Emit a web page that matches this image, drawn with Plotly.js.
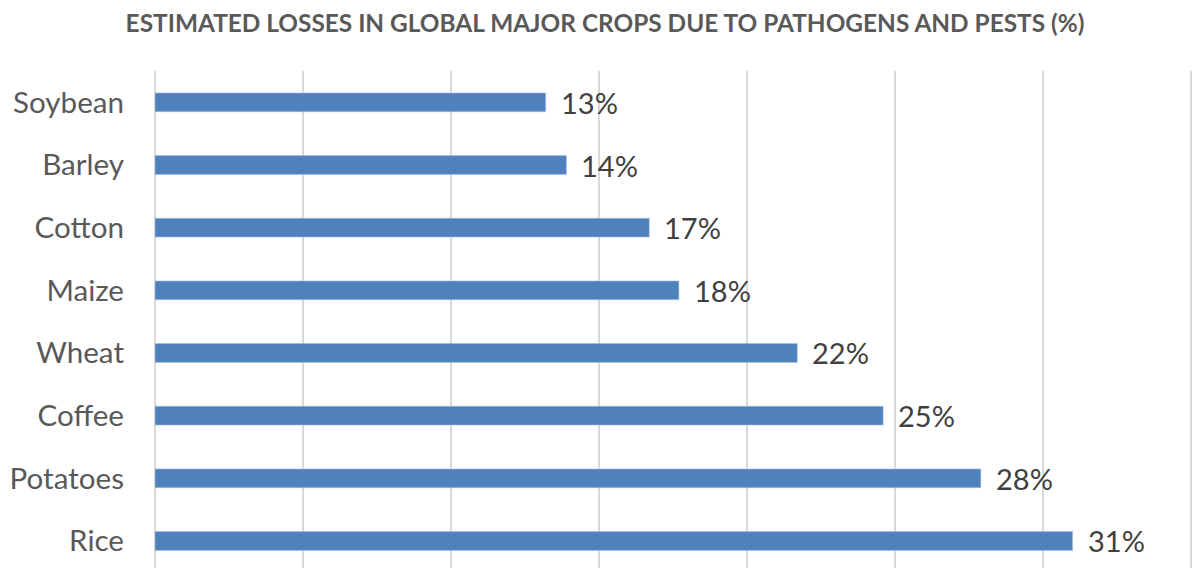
<!DOCTYPE html>
<html>
<head>
<meta charset="utf-8">
<script src="https://cdn.plot.ly/plotly-3.0.1.min.js"></script>
<style>html,body{margin:0;padding:0;background:#fff;}#chart{width:1192px;height:568px;}</style>
</head>
<body>
<div id="chart"></div>
<script>
const crops = ["Rice", "Potatoes", "Coffee", "Wheat", "Maize", "Cotton", "Barley", "Soybean"];
const losses = [31.0, 27.9, 24.6, 21.7, 17.7, 16.7, 13.9, 13.2];
const valueLabels = ["31%", "28%", "25%", "22%", "18%", "17%", "14%", "13%"];
const chartTitle = "ESTIMATED LOSSES IN GLOBAL MAJOR CROPS DUE TO PATHOGENS AND PESTS (%)";
const xTicks = [0, 5, 10, 15, 20, 25, 30, 35];

const FONT = "Lato, 'Open Sans', sans-serif";

const trace = {
  type: "bar",
  orientation: "h",
  y: crops,
  x: losses,
  marker: {color: "#4F81BD", line: {color: "#A7BFDE", width: 0.6}},
  width: 0.3,
  hoverinfo: "skip",
  showlegend: false
};

const annotations = crops.map((c, i) => ({
  x: losses[i], y: c, xref: "x", yref: "y",
  text: valueLabels[i], showarrow: false,
  xanchor: "left", yanchor: "middle", xshift: 13,
  font: {family: FONT, size: 29, color: "#404040"}
}));

const layout = {
  width: 1192, height: 568,
  margin: {l: 155, r: 0, t: 71, b: 0, pad: 0},
  paper_bgcolor: "#ffffff", plot_bgcolor: "#ffffff",
  title: {
    text: "<b>" + chartTitle + "</b>",
    x: 605/1192, xanchor: "center", xref: "container",
    y: 1 - 23/568, yref: "container", yanchor: "middle",
    font: {family: FONT, size: 24.4, color: "#595959"}
  },
  xaxis: {
    range: [0, 35.035], tickvals: xTicks, showticklabels: false,
    showgrid: true, gridcolor: "#D9D9D9", gridwidth: 2,
    zeroline: true, zerolinecolor: "#D9D9D9", zerolinewidth: 2,
    showline: false, ticks: "", fixedrange: true
  },
  yaxis: {
    type: "category", categoryorder: "array", categoryarray: crops,
    range: [-0.431, 7.5],
    showgrid: false, zeroline: false, showline: false,
    ticks: "", ticklabelstandoff: 30,
    tickfont: {family: FONT, size: 29.6, color: "#595959"},
    fixedrange: true
  },
  annotations: annotations
};

Plotly.newPlot("chart", [trace], layout, {displayModeBar: false, staticPlot: true});
</script>
</body>
</html>
